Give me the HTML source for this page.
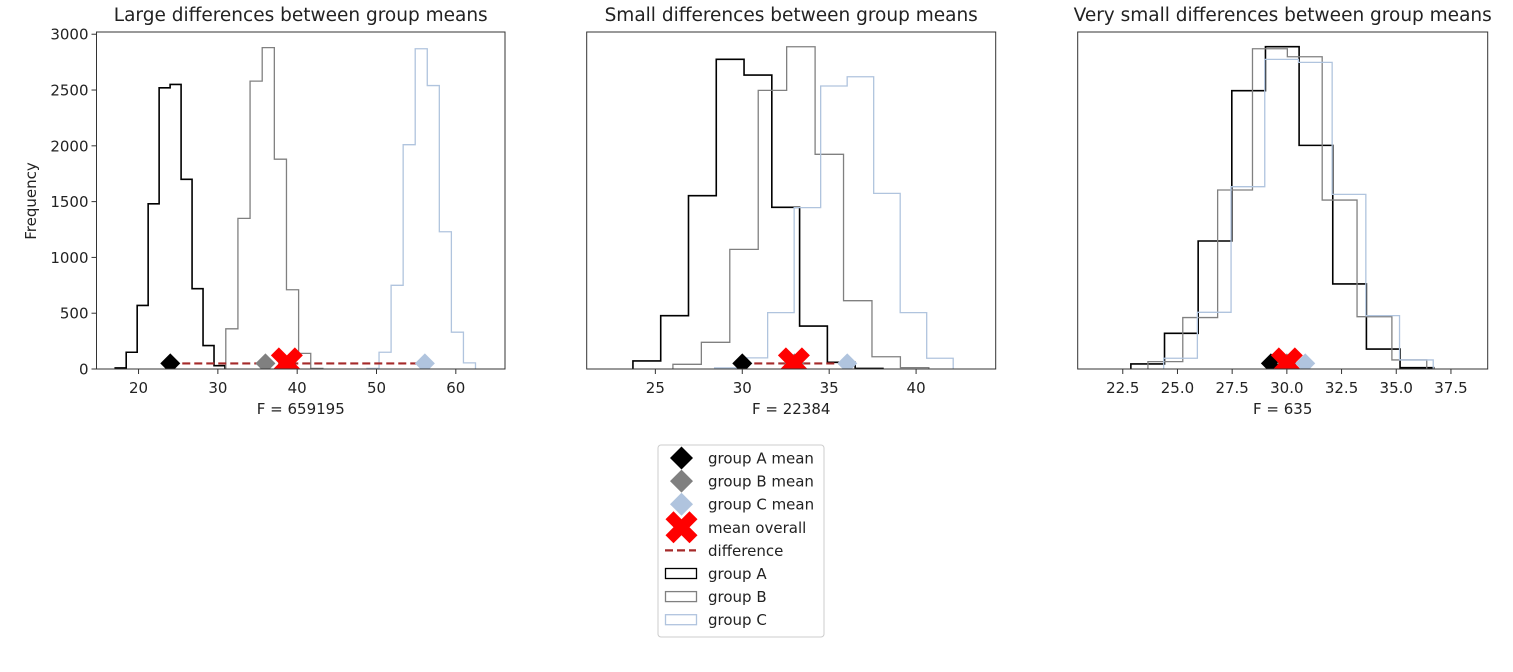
<!DOCTYPE html>
<html><head><meta charset="utf-8"><style>
body{margin:0;background:#fff;}
svg text{font-family:"DejaVu Sans","Liberation Sans",sans-serif;fill:#222;}
</style></head><body>
<svg id="chart" width="1513" height="667" xmlns="http://www.w3.org/2000/svg"></svg>
<script>
// ---- data ----
const panelTitles = ["Large differences between group means","Small differences between group means","Very small differences between group means"];
const fLabels = ["F = 659195","F = 22384","F = 635"];
const xDomains = [[14.7,66.2],[21.05,44.58],[20.44,39.18]];
const xTicks = [[20,30,40,50,60],[25,30,35,40],[22.5,25,27.5,30,32.5,35,37.5]];
const xTickLabels = [["20","30","40","50","60"],["25","30","35","40"],["22.5","25.0","27.5","30.0","32.5","35.0","37.5"]];
const yTicks = [0,500,1000,1500,2000,2500,3000];
const yMax = 3020;
// histogram bins: start, width, counts
const p1Start = [17.06,31.0,48.8];
const p1Width = [1.384,1.53,1.52];
const p1A = [10,150,570,1480,2520,2550,1700,720,210,30];
const p1B = [360,1350,2580,2880,1880,710,140,5];
const p1C = [5,150,750,2010,2870,2540,1230,330,55];
const p2Start = [23.71,26.01,28.41];
const p2Width = [1.598,1.636,1.525];
const p2A = [72,478,1553,2775,2634,1449,385,60,5];
const p2B = [42,239,1072,2497,2888,1924,612,110,12];
const p2C = [10,100,505,1446,2536,2619,1574,505,96];
const p3Start = [22.87,23.65,24.37];
const p3Width = [1.538,1.593,1.54];
const p3A = [45,320,1147,2494,2888,2004,762,179,12];
const p3B = [66,461,1604,2870,2798,1514,469,81];
const p3C = [96,508,1634,2775,2748,1565,478,81];
// means
const meansA = [24.0,30.0,29.27];
const meansB = [36.0,33.0,30.0];
const meansC = [56.1,36.04,30.84];
const meansOverall = [38.7,32.97,30.0];
const markerY = 50;

const groupColors = ["#000000","#808080","#b0c4de"];
const groupNames = ["group-a","group-b","group-c"];
const panelData = [[p1A,p1B,p1C],[p2A,p2B,p2C],[p3A,p3B,p3C]];
const panelStart = [p1Start,p2Start,p3Start];
const panelWidth = [p1Width,p2Width,p3Width];
const boxes = [[96.5,505],[586.7,995.7],[1077.7,1487.7]];
const axTop = 32, axBottom = 369;
const diffColor = '#a52a2a';

const svg = document.getElementById('chart');
const NS = "http://www.w3.org/2000/svg";
function mk(tag, attrs, parent){
  const e = document.createElementNS(NS, tag);
  for (const k in attrs) e.setAttribute(k, attrs[k]);
  (parent||svg).appendChild(e);
  return e;
}
function xPath(ox,my,a,b){
  return `M${ox-a+b},${my-a} L${ox},${my-b} L${ox+a-b},${my-a} L${ox+a},${my-a+b} L${ox+b},${my} L${ox+a},${my+a-b} L${ox+a-b},${my+a} L${ox},${my+b} L${ox-a+b},${my+a} L${ox-a},${my+a-b} L${ox-b},${my} L${ox-a},${my-a+b} Z`;
}
const yScale = v => axBottom - v/yMax*(axBottom-axTop);

const defs = mk('defs',{});
for (let p=0;p<3;p++){
  const cp = mk('clipPath',{id:'clip'+p},defs);
  mk('rect',{x:boxes[p][0],y:axTop,width:boxes[p][1]-boxes[p][0],height:axBottom-axTop},cp);
}

for (let p=0;p<3;p++){
  const L = boxes[p][0], R = boxes[p][1];
  const d0 = xDomains[p][0], d1 = xDomains[p][1];
  const xs = v => L + (v-d0)/(d1-d0)*(R-L);
  const g = mk('g',{});
  
  

  const t = mk('text',{x:(L+R)/2,y:21,'text-anchor':'middle','font-size':'18.5'},g);
  t.textContent = panelTitles[p];
  
  

  const plot = mk('g',{'clip-path':'url(#clip'+p+')'},g);
  for (let k=0;k<3;k++){
    const counts = panelData[p][k];
    const s = panelStart[p][k], w = panelWidth[p][k];
    let d = 'M'+xs(s)+','+yScale(0);
    for (let i=0;i<counts.length;i++){
      d += ' L'+xs(s+i*w)+','+yScale(counts[i])+' L'+xs(s+(i+1)*w)+','+yScale(counts[i]);
    }
    d += ' L'+xs(s+counts.length*w)+','+yScale(0);
    const path = mk('path',{d:d,fill:'none',stroke:groupColors[k],'stroke-width':k==0?1.6:1.3},plot);
    
    
  }
  const lo = Math.min(meansA[p],meansB[p],meansC[p]), hi = Math.max(meansA[p],meansB[p],meansC[p]);
  const my = yScale(markerY);
  const dl = mk('line',{x1:xs(lo),x2:xs(hi),y1:my,y2:my,stroke:diffColor,'stroke-width':2.2,'stroke-dasharray':'8,4'},plot);
  
  
  const means = [meansA[p],meansB[p],meansC[p]];
  for (let k=0;k<3;k++){
    const cx = xs(means[k]);
    const dm = mk('path',{d:`M${cx},${my-10} L${cx+10},${my} L${cx},${my+10} L${cx-10},${my} Z`,fill:groupColors[k]},plot);
    
    
  }
  const xm = mk('path',{d:xPath(xs(meansOverall[p]),my,16,8),fill:'#ff0000'},plot);
  
  

  const frame = mk('rect',{x:L,y:axTop,width:R-L,height:axBottom-axTop,fill:'none',stroke:'#333','stroke-width':1},g);
  
  

  for (let i=0;i<xTicks[p].length;i++){
    const x = xs(xTicks[p][i]);
    mk('line',{x1:x,x2:x,y1:axBottom,y2:axBottom+5,stroke:'#333'},g);
    const tl = mk('text',{x:x,y:axBottom+24,'text-anchor':'middle','font-size':'15'},g);
    tl.textContent = xTickLabels[p][i];
    
    
  }
  const fl = mk('text',{x:(L+R)/2,y:axBottom+45,'text-anchor':'middle','font-size':'15'},g);
  fl.textContent = fLabels[p];
  
  

  if (p==0){
    for (const v of yTicks){
      const y = yScale(v);
      mk('line',{x1:L-5,x2:L,y1:y,y2:y,stroke:'#333'},g);
      const yl = mk('text',{x:L-8,y:y+5.5,'text-anchor':'end','font-size':'15'},g);
      yl.textContent = v;
      
      
    }
    const yt = mk('text',{x:0,y:0,'text-anchor':'middle','font-size':'15',transform:'translate(36,201) rotate(-90)'},g);
    yt.textContent = 'Frequency';
    
    
  }
}

// legend
const lg = mk('g',{});


mk('rect',{x:658,y:445,width:166,height:192,rx:3,fill:'#fff',stroke:'#ccc'},lg);
const legendLabels = ["group A mean","group B mean","group C mean","mean overall","difference","group A","group B","group C"];
for (let i=0;i<8;i++){
  const cy = 458 + i*23.1;
  const cx = 681.5;
  if (i<3){
    mk('path',{d:`M${cx},${cy-11.5} L${cx+11.5},${cy} L${cx},${cy+11.5} L${cx-11.5},${cy} Z`,fill:groupColors[i]},lg);
  } else if (i==3){
    mk('path',{d:xPath(cx,cy,16,8),fill:'#ff0000'},lg);
  } else if (i==4){
    mk('line',{x1:665,x2:696,y1:cy,y2:cy,stroke:diffColor,'stroke-width':2.2,'stroke-dasharray':'8,4'},lg);
  } else {
    mk('rect',{x:665.5,y:cy-5,width:31,height:10,fill:'none',stroke:groupColors[i-5],'stroke-width':1.3},lg);
  }
  const t = mk('text',{x:708,y:cy+5.5,'font-size':'15'},lg);
  t.textContent = legendLabels[i];
  
  
}
</script>
</body></html>
